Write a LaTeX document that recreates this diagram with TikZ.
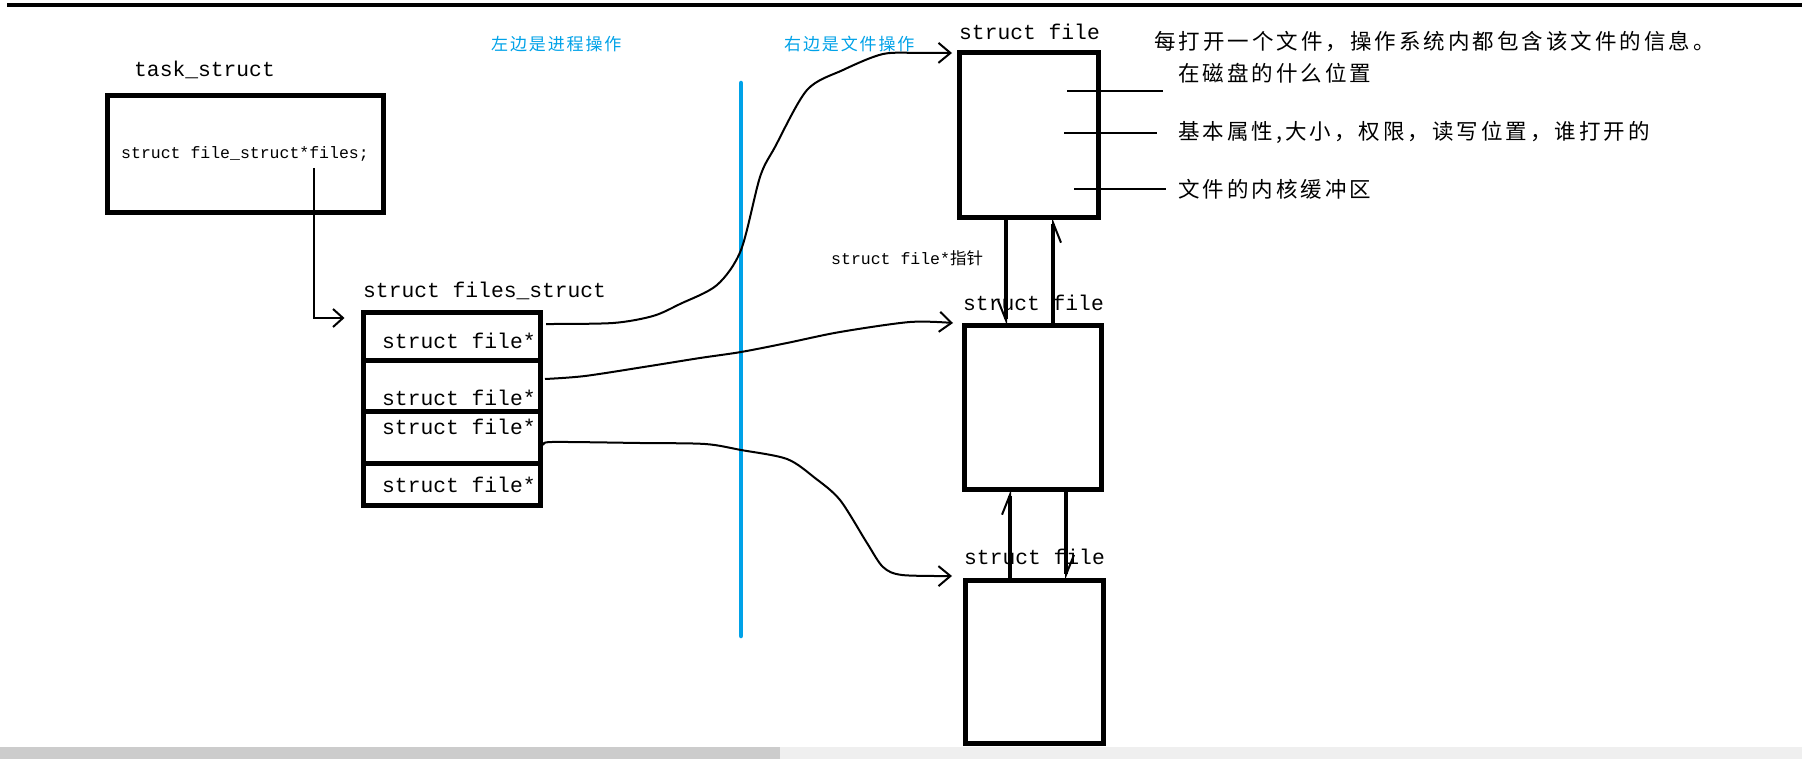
\documentclass[tikz,border=0pt]{standalone}
\usepackage{fontspec}
\newfontfamily\mono{Liberation Mono}
\newfontfamily\cjk[LetterSpace=14]{Noto Sans CJK SC}
\newfontfamily\cjkblue[LetterSpace=11]{Noto Sans CJK SC}
\newfontfamily\cjkplain{Noto Sans CJK SC}
\usetikzlibrary{arrows.meta,calc}
\definecolor{paintblue}{HTML}{00A2E8}
\definecolor{barA}{HTML}{CCCCCC}
\definecolor{barB}{HTML}{EFEFEF}
\tikzset{
  box/.style={draw,line width=5pt,inner sep=0pt,outer sep=0pt},
  bigmono/.style={inner sep=0pt,anchor=west,font=\mono\fontsize{21.3}{24}\selectfont},
  smallmono/.style={inner sep=0pt,anchor=west,font=\mono\fontsize{16.5}{20}\selectfont},
  note/.style={inner sep=0pt,anchor=west,font=\cjk\fontsize{21.5}{24}\selectfont},
  bluelabel/.style={inner sep=0pt,anchor=west,text=paintblue,font=\cjkblue\fontsize{17}{19}\selectfont},
  curve/.style={line width=2pt,-{Straight Barb[length=12pt,width=20pt,line width=2pt]}},
  elbow/.style={line width=2pt,-{Straight Barb[length=10pt,width=18pt,line width=2pt]}},
  link/.style={line width=4.5pt},
  barbR/.style={-{Straight Barb[harpoon,swap,length=20pt,width=16pt,line width=2pt]}},
  barbL/.style={-{Straight Barb[harpoon,length=20pt,width=16pt,line width=2pt]}},
  callout/.style={line width=2pt},
}
\begin{document}
\begin{tikzpicture}[x=1pt,y=-1pt]
\useasboundingbox (0,0) rectangle (1802,759);
\fill[white] (0,0) rectangle (1802,759);
% top rule and bottom scroll bar
\draw[line width=4pt] (7,5) -- (1802,5);
\fill[barA] (0,747) rectangle (780,759);
\fill[barB] (780,747) rectangle (1802,759);

% task_struct
\node[bigmono] (tasklbl) at (134,70) {task\_struct};
\node[box,minimum width=276,minimum height=117,font=\mono\fontsize{16.5}{20}\selectfont] (task) at (245,154) {struct file\_struct*files;};

% files_struct
\node[bigmono] (fslbl) at (363,291) {struct files\_struct};
\node[box,minimum width=176.5,minimum height=47] (c1) at (451.75,336.5) {};
\node[box,minimum width=176.5,minimum height=51] (c2) at (451.75,385.5) {};
\node[box,minimum width=176.5,minimum height=52] (c3) at (451.75,437) {};
\node[box,minimum width=176.5,minimum height=42] (c4) at (451.75,484) {};
\node[bigmono] (t1) at (382,341) {struct file*};
\node[bigmono] (t2) at (382,398) {struct file*};
\node[bigmono] (t3) at (382,427) {struct file*};
\node[bigmono] (t4) at (382,485) {struct file*};

\draw[elbow] ($(task.center)+(69,14)$) |- ([shift={(-19,-18.5)}]c1.west);

% divider
\draw[paintblue,line width=4.5pt,line cap=round] (741,83) -- (741,636);
\node[bluelabel] (lp) at (491,44) {左边是进程操作};
\node[bluelabel] (rp) at (784,44) {右边是文件操作};

% struct file boxes
\node[box,minimum width=139,minimum height=165] (b1) at (1029,135) {};
\node[box,minimum width=137,minimum height=164] (b2) at (1033,407.5) {};
\node[box,minimum width=138,minimum height=163] (b3) at (1034,661.5) {};
\node[bigmono] (l1) at (959,32) {struct file};
\node[bigmono] (l2) at (963,303) {struct file};
\node[bigmono] (l3) at (964,557) {struct file};

\node[inner sep=0pt,anchor=west] (ptr) at (831,258) {\mono\fontsize{16.5}{20}\selectfont struct file*\cjkplain 指针};

% doubly linked pointers
\draw[link,barbR] (1006,0 |- b1.south) -- (1006,0 |- b2.north);
\draw[link,barbR] (1053,0 |- b2.north) -- (1053,0 |- b1.south);
\draw[link,barbL] (1010,0 |- b3.north) -- (1010,0 |- b2.south);
\draw[link,barbL] (1066,0 |- b2.south) -- (1066,0 |- b3.north);

% notes
\node[note] (n0) at (1154,42) {每打开一个文件，操作系统内都包含该文件的信息。};
\node[note] (n1) at (1178,73) {在磁盘的什么位置};
\node[note] (n2) at (1178,132) {基本属性,大小，权限，读写位置，谁打开的};
\node[note] (n3) at (1178,189) {文件的内核缓冲区};
\coordinate (e1) at (1163,91);
\coordinate (e2) at (1157,133);
\coordinate (e3) at (1166,189);
\draw[callout] (1067,91) -- (e1);
\draw[callout] (1064,133) -- (e2);
\draw[callout] (1074,189) -- (e3);

% pointer curves
\draw[curve] plot[smooth,tension=0.5] coordinates {([shift={(6,-12.5)}]c1.east) (613,323) (653,316) (680,304) (717,285) (741,250) (760,177) (775,147) (807,90) (843,70) (883,54) (920,53) ([shift={(-7.5,0.5)}]b1.north west)};
\draw[curve] plot[smooth,tension=0.5] coordinates {([shift={(5,-6.5)}]c2.east) (585,376) (650,366) (700,358) (741,352) (787,343) (840,332) (910,322) ([shift={(-11.5,-2.5)}]b2.north west)};
\draw[curve] plot[smooth,tension=0.5] coordinates {([shift={(4,8)}]c3.east) (552,442) (640,443) (705,444) (741,450) (787,459) (815,478) (840,500) (867,543) (883,567) (902,575) ([shift={(-13,-4)}]b3.north west)};
\end{tikzpicture}
\end{document}
